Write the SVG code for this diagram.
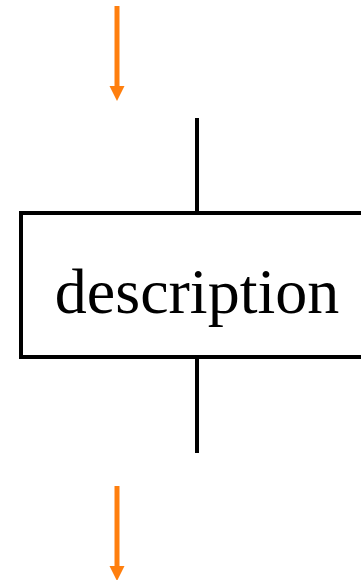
<svg xmlns="http://www.w3.org/2000/svg" width="361" height="580" viewBox="0 0 361 580">
<style>
.flow{stroke:#ff7f0e;stroke-width:5;fill:none}
.head{fill:#ff7f0e}
.wire{stroke:#000;stroke-width:4;fill:none}
.box{fill:#fff;stroke:#000;stroke-width:4}
.lbl{font-family:"Liberation Serif","Times New Roman",serif;font-size:64px;fill:#000;text-anchor:middle}
</style>
<rect width="361" height="580" fill="#fff"/>
<g id="connectors">
<line class="wire" x1="197" y1="118" x2="197" y2="213"/>
<line class="wire" x1="197" y1="357" x2="197" y2="453"/>
<line class="flow" x1="117" y1="6" x2="117" y2="88"/>
<path class="head" d="M109.5,86 L124.5,86 L117,101 Z"/>
<line class="flow" x1="117" y1="486" x2="117" y2="568"/>
<path class="head" d="M109.5,566 L124.5,566 L117,581 Z"/>
</g>
<g id="node-description">
<rect class="box" x="21" y="213" width="352" height="144"/>
<text class="lbl" x="197" y="313">description</text>
</g>
</svg>
